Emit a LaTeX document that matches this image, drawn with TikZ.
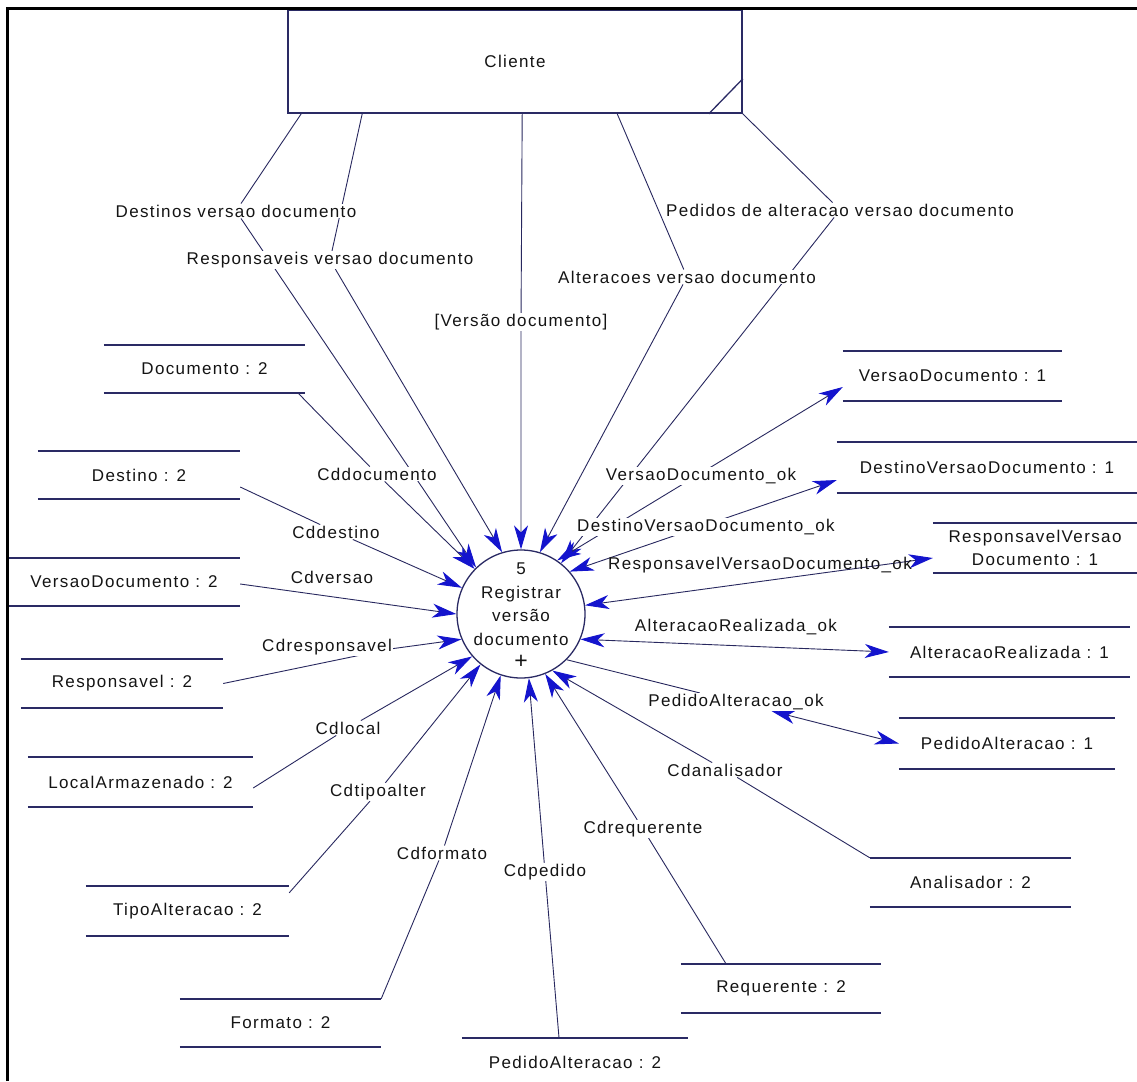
\documentclass[tikz,border=0pt]{standalone}
\usepackage{fontspec}
\setmainfont{Liberation Sans}[LetterSpace=8]
\usetikzlibrary{arrows.meta}
\pgfdeclarelayer{background}
\pgfsetlayers{background,main}

\definecolor{flowline}{RGB}{40,40,95}
\definecolor{tipblue}{RGB}{20,20,205}
\definecolor{storeline}{RGB}{42,42,100}
\definecolor{inktext}{RGB}{20,20,20}

\newcommand\dfdfont{\fontsize{17}{23}\selectfont}

\tikzset{
  lbl/.style={fill=white, inner sep=1pt, text=inktext, font=\dfdfont},
  flow/.style={draw=flowline, line width=0.9pt, ->},
  flowboth/.style={flow, <->},
  storeedge/.style={draw=storeline, line width=1.7pt},
  store/.style={inner sep=0pt, minimum height=49pt, text=inktext, font=\dfdfont,
    append after command={
      (\tikzlastnode.north west) edge[storeedge] (\tikzlastnode.north east)
      (\tikzlastnode.south west) edge[storeedge] (\tikzlastnode.south east)}},
  process/.style={circle, draw=storeline, line width=1.3pt, minimum size=128pt, inner sep=0pt},
  entity/.style={draw=storeline, line width=1.6pt, inner sep=0pt, text=inktext, font=\dfdfont}
}

\begin{document}
\begin{tikzpicture}[x=1pt, y=-1pt,
  >={Stealth[length=24pt,width=14pt,inset=7pt,color=tipblue]}]
\useasboundingbox (0,0) rectangle (1137,1081);

% process
\node[process] (P) at (521,614) {};
\node[align=center, text=inktext, font=\fontsize{17}{23.5}\selectfont] (Ptxt) at (521,616)
  {5\\Registrar\\versão\\documento\\{\fontsize{23}{23.5}\selectfont +}};

% external entity
\node[entity, minimum width=454pt, minimum height=103pt] (cli) at (515,61.5) {Cliente};
\draw[storeline, line width=1.3pt] ([yshift=35pt]cli.south east) -- ([xshift=-34pt]cli.south east);

% data stores
\node[store, minimum width=201pt, minimum height=48pt] (doc) at (204.5,369) {Documento : 2};
\node[store, minimum width=202pt, minimum height=48pt] (dst) at (139,475) {Destino : 2};
\node[store, minimum width=232pt, minimum height=48pt] (vd2) at (124,582) {VersaoDocumento : 2};
\node[store, minimum width=202pt] (rsp) at (122,683.5) {Responsavel : 2};
\node[store, minimum width=225pt, minimum height=50pt] (loc) at (140.5,782) {LocalArmazenado : 2};
\node[store, minimum width=203pt, minimum height=50pt] (tpa) at (187.5,911) {TipoAlteracao : 2};
\node[store, minimum width=201pt, minimum height=48pt] (fmt) at (280.5,1023) {Formato : 2};
\node[store, minimum width=226pt, minimum height=48pt] (pa2) at (575,1062) {PedidoAlteracao : 2};
\node[store, minimum width=200pt] (req) at (781,988.5) {Requerente : 2};
\node[store, minimum width=201pt] (ana) at (970.5,882.5) {Analisador : 2};
\node[store, minimum width=216pt, minimum height=51pt] (pa1) at (1007,743.5) {PedidoAlteracao : 1};
\node[store, minimum width=241pt, minimum height=50pt] (ar1) at (1009.5,652) {AlteracaoRealizada : 1};
\node[store, minimum width=204pt, minimum height=50pt, align=center] (rv1) at (1035,548) {ResponsavelVersao\\Documento : 1};
\node[store, minimum width=300pt, minimum height=51pt] (dv1) at (987,467.5) {DestinoVersaoDocumento : 1};
\node[store, minimum width=219pt, minimum height=50pt] (vd1) at (952.5,376) {VersaoDocumento : 1};

% flow labels
\node[lbl] (lDes) at (236,211) {Destinos versao documento};
\node[lbl] (lPed) at (840,210) {Pedidos de alteracao versao documento};
\node[lbl] (lRes) at (330,260) {Responsaveis versao documento};
\node[lbl] (lAlt) at (687,277) {Alteracoes versao documento};
\node[lbl] (lVer) at (521,322) {[Versão documento]};
\node[lbl] (lCdoc) at (377,474) {Cddocumento};
\node[lbl] (lCdes) at (336,532) {Cddestino};
\node[lbl] (lCver) at (332,577) {Cdversao};
\node[lbl] (lCres) at (327,647) {Cdresponsavel};
\node[lbl] (lCloc) at (348,728) {Cdlocal};
\node[lbl] (lCtip) at (378,792) {Cdtipoalter};
\node[lbl] (lCfmt) at (442,853) {Cdformato};
\node[lbl] (lCped) at (545,872) {Cdpedido};
\node[lbl] (lCreq) at (643,829) {Cdrequerente};
\node[lbl] (lCana) at (725,770) {Cdanalisador};
\node[lbl] (lPAok) at (736,702) {PedidoAlteracao\_ok};
\node[lbl] (lARok) at (736,627) {AlteracaoRealizada\_ok};
\node[lbl, fill=none] (lRVok) at (760,565) {ResponsavelVersaoDocumento\_ok};
\node[lbl] (lDVok) at (706,527) {DestinoVersaoDocumento\_ok};
\node[lbl] (lVDok) at (701,476) {VersaoDocumento\_ok};

\coordinate (bRes) at (390,649);

\begin{pgfonlayer}{background}
  \fill[white] (0,0) rectangle (1137,1081);
  % flows from the external entity
  \draw[flow] ([xshift=14pt]cli.south west) -- (lDes) -- (P.134);
  \draw[flow] ([xshift=75pt]cli.south west) -- (lRes) -- (P.107);
  \draw[flow] ([xshift=235pt]cli.south west) -- (lVer) -- (P.north);
  \draw[flow] ([xshift=330pt]cli.south west) -- (lAlt) -- (P.73);
  \draw[flow] (cli.south east) -- (lPed) -- (P);
  % flows read from stores
  \draw[flow] ([xshift=-7pt]doc.south east) -- (lCdoc) -- (P);
  \draw[flow] ([yshift=-12pt]dst.east) -- (lCdes) -- (P);
  \draw[flow] ([yshift=-2pt]vd2.east) -- (P.west);
  \draw[flow] (rsp.east) -- (bRes) -- (P.203);
  \draw[flow] ([yshift=-6pt]loc.east) -- (lCloc) -- (P.221);
  \draw[flow] ([yshift=-7pt]tpa.north east) -- (lCtip) -- (P);
  \draw[flow] (fmt.north east) -- (lCfmt) -- (P);
  \draw[flow] ([xshift=-16pt]pa2.north) -- (lCped) -- (P.277);
  \draw[flow] ([xshift=-55pt]req.north) -- (lCreq) -- (P.292);
  \draw[flow] (ana.north west) -- (lCana) -- (P.299);
  % flows written to stores
  \draw[flowboth] (P.315) -- (lPAok) -- (pa1.west);
  \draw[flowboth] (P.337) -- (ar1.west);
  \draw[flowboth] (P) -- ([yshift=-10pt]rv1.west);
  \draw[flowboth] (P.41) -- ([yshift=-12.5pt]dv1.west);
  \draw[flowboth] (P.56) -- ([yshift=-11pt]vd1.west);
\end{pgfonlayer}

% frame
\draw[black, line width=3pt] (7.5,1081) -- (7.5,8.5) -- (1137,8.5);
\end{tikzpicture}
\end{document}
